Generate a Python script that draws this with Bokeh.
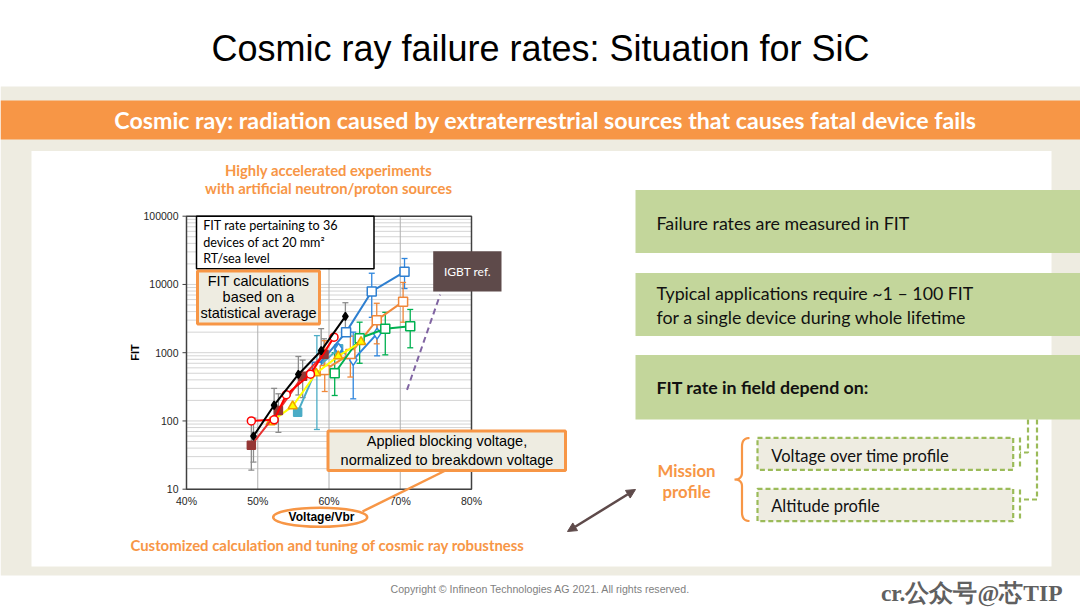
import numpy as np
from bokeh.plotting import figure
from bokeh.models import Range1d, LogScale, LinearScale, Arrow, NormalHead
from bokeh.core.properties import value
from bokeh.embed import file_html
from bokeh.resources import INLINE

# ---------------- data ----------------
x_ticks = [40, 50, 60, 70, 80]
x_tick_labels = ["40%", "50%", "60%", "70%", "80%"]
y_ticks = [10, 100, 1000, 10000, 100000]
y_tick_labels = ["10", "100", "1000", "10000", "100000"]
v_grid = [50, 60, 70]

black_v = [49.4, 52.3, 55.7, 58.9, 62.3]
black_fit = [60, 170, 480, 1070, 3400]
black_lo = [25, 90, 240, 560, 2100]
black_hi = [110, 300, 880, 2250, 5400]

brown_v = [49.1, 52.9, 56.3, 59.3]
brown_fit = [44, 142, 450, 950]
brown_lo = [19, 68, 220, 480]
brown_hi = [100, 250, 780, 1600]

red_v = [49.1, 52.3, 54.0, 57.4, 60.7]
red_fit = [100, 104, 242, 485, 1690]

yellow_v = [51.8, 54.9, 58.2, 61.3, 64.5]
yellow_fit = [96, 165, 500, 890, 1440]

teal_v = [55.6, 58.3, 61.35]
teal_fit = [134, 600, 1140]
teal_err_v = [58.3]
teal_lo = [75]
teal_hi = [1780]

blue_v = [58.3, 62.4, 66.0, 70.6]
blue_fit = [620, 2000, 7900, 15300]
blue_err_v = [66.0, 70.6]
blue_lo = [3300, 8700]
blue_hi = [14600, 24000]

dia_v = [61.35, 63.4, 66.75]
dia_fit = [1140, 787, 1900]
dia_err_v = [63.4, 66.75]
dia_lo = [211, 900]
dia_hi = [2000, 2950]

orange_v = [59.4, 63.0, 66.7, 70.4]
orange_fit = [560, 960, 3000, 5600]
orange_lo = [270, 440, 1350, 2800]
orange_hi = [1500, 1750, 5300, 10700]

green_v = [60.8, 64.3, 67.9, 71.4]
green_fit = [500, 1630, 2240, 2450]
green_lo = [236, 700, 930, 1180]
green_hi = [1000, 2800, 3900, 4300]

igbt_v = [70.95, 75.6]
igbt_fit = [285, 7100]

# ---------------- layout constants ----------------
W, H = 1080, 608
PX40, PX80 = 186.0, 471.0          # pixel x of 40% and 80%
PY10, PY1E5 = 488.7, 215.7         # pixel y of 10 and 100000

ORANGE = "#F79646"
BEIGE = "#EEECE1"
GREEN_BOX = "#C3D69B"
GREEN_DASH = "#9BBB59"
DARK = "#5E4A4A"

p = figure(width=W, height=H, x_range=Range1d(0, W), y_range=Range1d(H, 0),
           output_backend="svg", toolbar_location=None, title=None,
           x_axis_type=None, y_axis_type=None, min_border=0,
           outline_line_color=None, background_fill_color="white",
           border_fill_color="white")

# chart scales mapped onto the page
sx = (PX80 - PX40) / (80 - 40)
v_start = 40 - PX40 / sx
v_end = 40 + (W - PX40) / sx
dec = (PY10 - PY1E5) / 4.0
lg_top = 1 + PY10 / dec
lg_bot = 1 - (H - PY10) / dec
p.extra_x_ranges = {"vx": Range1d(v_start, v_end)}
p.extra_x_scales = {"vx": LinearScale()}
p.extra_y_ranges = {"fit": Range1d(10 ** lg_bot, 10 ** lg_top)}
p.extra_y_scales = {"fit": LogScale()}
C = dict(x_range_name="vx", y_range_name="fit")


def box(l, r, t, b, fill, line=None, lw=1, dash="solid"):
    p.quad(left=[l], right=[r], top=[t], bottom=[b], fill_color=fill,
           line_color=line, line_width=lw, line_dash=dash)


def txt(x, y, s, size, color="#000000", font="Lato", style="normal",
        align="left", angle=0.0, **kw):
    # y is the text baseline; placed via its cap-height middle
    p.text(x=[x], y=[y - 0.36 * size], text=[s], text_font=value(font),
           text_font_size=f"{size}px", text_font_style=style,
           text_color=color, text_align=align, text_baseline="middle",
           angle=angle, **kw)


# ---------------- slide background ----------------
box(0, W, 86, 575, BEIGE)
box(0, W, 100, 139, ORANGE)
box(31, 1051, 150.5, 566, "white")

txt(540, 61, "Cosmic ray failure rates: Situation for SiC", 36,
    font="Liberation Sans", align="center")
txt(545, 128, "Cosmic ray: radiation caused by extraterrestrial sources that causes fatal device fails",
    23.2, color="white", style="bold", align="center")

# ---------------- chart ----------------
txt(328, 175, "Highly accelerated experiments", 14.8, color=ORANGE, style="bold", align="center")
txt(328, 192.7, "with artificial neutron/proton sources", 14.8, color=ORANGE, style="bold", align="center")

minor = [m * 10 ** k for k in range(1, 5) for m in range(1, 10)] + [100000]
p.segment(x0=[40] * len(minor), x1=[80] * len(minor), y0=minor, y1=minor,
          line_color="#D4D4D4", line_width=1, **C)
p.segment(x0=v_grid, x1=v_grid, y0=[10] * 3, y1=[100000] * 3,
          line_color="#B0B0B0", line_width=1, **C)
p.quad(left=[40], right=[80], bottom=[10], top=[100000], fill_color=None,
       line_color="#404040", line_width=1.5, **C)
# y ticks & labels
p.segment(x0=[PX40 - 4] * 5, x1=[PX40] * 5, y0=y_ticks, y1=y_ticks,
          line_color="#404040", line_width=1, y_range_name="fit")
p.text(x=[PX40 - 8] * 5, y=y_ticks, text=y_tick_labels, text_font=value("Liberation Sans"),
       text_font_size="10.5px", text_color="#262626", text_align="right",
       text_baseline="middle", y_range_name="fit")
p.text(x=x_ticks, y=[500.5] * 5, text=x_tick_labels, text_font=value("Liberation Sans"),
       text_font_size="10.5px", text_color="#262626", text_align="center",
       text_baseline="middle", x_range_name="vx")
p.text(x=[134], y=[352], text=["FIT"], text_font=value("Liberation Sans"),
       text_font_size="11px", text_font_style="bold", text_align="center",
       text_baseline="middle", angle=np.pi / 2)
p.text(x=[321], y=[516.5], text=["Voltage/Vbr"], text_font=value("Liberation Sans"),
       text_font_size="12px", text_font_style="bold", text_align="center",
       text_baseline="middle")
p.ellipse(x=[319.7], y=[516.7], width=94, height=19, fill_color=None,
          line_color=ORANGE, line_width=2.5)


def errbars(v, lo, hi, color):
    p.segment(x0=v, x1=v, y0=lo, y1=hi, line_color=color, line_width=1.3, **C)
    p.scatter(x=list(v) + list(v), y=list(lo) + list(hi), marker="dash", size=6,
              line_color=color, line_width=1.3, **C)


errbars(black_v, black_lo, black_hi, "#8C8C8C")
errbars(brown_v, brown_lo, brown_hi, "#8C8C8C")
errbars(teal_err_v, teal_lo, teal_hi, "#4BACC6")
errbars(blue_err_v, blue_lo, blue_hi, "#2E86DE")
errbars(dia_err_v, dia_lo, dia_hi, "#2E86DE")
errbars(orange_v, orange_lo, orange_hi, "#F0883A")
errbars(green_v, green_lo, green_hi, "#00B050")


def series(v, f, color, marker, size, fill, mline=None):
    p.line(x=v, y=f, line_color=color, line_width=2, **C)
    p.scatter(x=v, y=f, marker=marker, size=size, fill_color=fill,
              line_color=mline or color, line_width=1.5, **C)


series(teal_v, teal_fit, "#4BACC6", "square", 8, "#4BACC6")
series(blue_v, blue_fit, "#2E7FD0", "square", 9, "white")
series(dia_v, dia_fit, "#2E86DE", "diamond", 11, "white")
series(orange_v, orange_fit, "#F0883A", "square", 9, "white")
series(green_v, green_fit, "#00B050", "square", 9, "white")
series(yellow_v, yellow_fit, "#FFFF00", "triangle", 9, "#FFFF00", "#F0A000")
series(brown_v, brown_fit, "#E83030", "square", 8, "#953735", "#953735")
series(red_v, red_fit, "#FF0000", "circle", 8, "white")
series(black_v, black_fit, "#000000", "diamond", 8, "#000000")

p.line(x=igbt_v, y=igbt_fit, line_color="#8064A2", line_width=2, line_dash="6 4", **C)

# chart annotations
box(196, 373.5, 215.7, 268.3, "white", "#000000", 1.5)
txt(202.7, 230, "FIT rate pertaining  to 36", 12.6)
txt(202.7, 246.7, "devices of act 20 mm\u00b2", 12.6)
txt(202.7, 262.7, "RT/sea level", 12.6)

box(197, 319, 270.5, 323.5, BEIGE, ORANGE, 3)
txt(258, 286, "FIT calculations", 14.5, font="Liberation Sans", align="center")
txt(258, 301.7, "based on a", 14.5, font="Liberation Sans", align="center")
txt(258, 317.3, "statistical average", 14.5, font="Liberation Sans", align="center")

box(432.7, 501, 250.7, 291, DARK)
txt(467, 275.5, "IGBT ref.", 12, color="white", align="center")

p.line(x=[445, 362], y=[470, 511], line_color=ORANGE, line_width=2.5)
box(327.5, 565, 430.5, 470, BEIGE, ORANGE, 3)
txt(446.5, 446, "Applied blocking voltage,", 14.5, font="Liberation Sans", align="center")
txt(446.5, 464.3, "normalized to breakdown voltage", 14.5, font="Liberation Sans", align="center")

txt(327, 549.5, "Customized calculation and tuning of cosmic ray robustness", 14.9,
    color=ORANGE, style="bold", align="center")

# ---------------- right side ----------------
box(635, W, 189.5, 252.5, GREEN_BOX)
box(635, W, 272.5, 335.5, GREEN_BOX)
box(635, W, 354.5, 419, GREEN_BOX)
txt(656, 229.3, "Failure rates are measured in FIT", 17.8, color="#111111")
txt(656, 299.3, "Typical applications require ~1 \u2013 100 FIT", 17.8, color="#111111")
txt(656, 322.7, "for a single device during whole lifetime", 17.8, color="#111111")
txt(656, 393.3, "FIT rate in field depend on:", 17.8, color="#111111", style="bold")

box(757, 1012.7, 437.3, 469.3, BEIGE, GREEN_DASH, 2.2, "5 3")
box(757, 1012.7, 488.3, 520.7, BEIGE, GREEN_DASH, 2.2, "5 3")
txt(770.7, 461, "Voltage over time profile", 16.5, color="#111111")
txt(770.7, 511.7, "Altitude profile", 16.5, color="#111111")

p.multi_line(xs=[[1027.5, 1027.5, 1019.5], [1019.5, 1019.5],
                 [1036.5, 1036.5, 1019.5], [1019.5, 1019.5]],
             ys=[[419, 452, 452], [437, 469], [419, 499, 499], [489, 521]],
             line_color=GREEN_DASH, line_width=2.2, line_dash="5 3")

# curly brace
def qbez(p0, c, p1, n=12):
    t = np.linspace(0, 1, n)
    x = (1 - t) ** 2 * p0[0] + 2 * (1 - t) * t * c[0] + t ** 2 * p1[0]
    y = (1 - t) ** 2 * p0[1] + 2 * (1 - t) * t * c[1] + t ** 2 * p1[1]
    return list(x), list(y)

bx, by = [], []
for seg in [((749, 437.5), (741.5, 437.5), (741.5, 446)),
            ((741.5, 446), (741.5, 446), (741.5, 472)),
            ((741.5, 472), (741.5, 479), (734, 479)),
            ((734, 479), (741.5, 479), (741.5, 486)),
            ((741.5, 486), (741.5, 486), (741.5, 512)),
            ((741.5, 512), (741.5, 520.5), (749, 520.5))]:
    sx_, sy_ = qbez(*seg)
    bx += sx_
    by += sy_
p.line(x=bx, y=by, line_color=ORANGE, line_width=2.2)

txt(686, 476, "Mission", 16.8, color=ORANGE, style="bold", align="center")
txt(686, 497, "profile", 16.8, color=ORANGE, style="bold", align="center")

p.add_layout(Arrow(x_start=567, y_start=531, x_end=635, y_end=489,
                   start=NormalHead(size=9, fill_color=DARK, line_color=DARK),
                   end=NormalHead(size=9, fill_color=DARK, line_color=DARK),
                   line_color=DARK, line_width=2.5))

# ---------------- footer ----------------
txt(540, 592.5, "Copyright \u00a9 Infineon Technologies AG 2021. All rights reserved.", 10.6,
    color="#7F7F7F", font="Liberation Sans", align="center")
txt(1062, 601, "cr.\u516c\u4f17\u53f7@\u82afTIP", 23.5, color="#606060",
    font="Liberation Serif", style="bold", align="right")

html = file_html(p, INLINE)
html = html.replace("<head>", "<head><style>html,body{margin:0;padding:0;overflow:hidden;}</style>", 1)
open("out.html", "w").write(html)
